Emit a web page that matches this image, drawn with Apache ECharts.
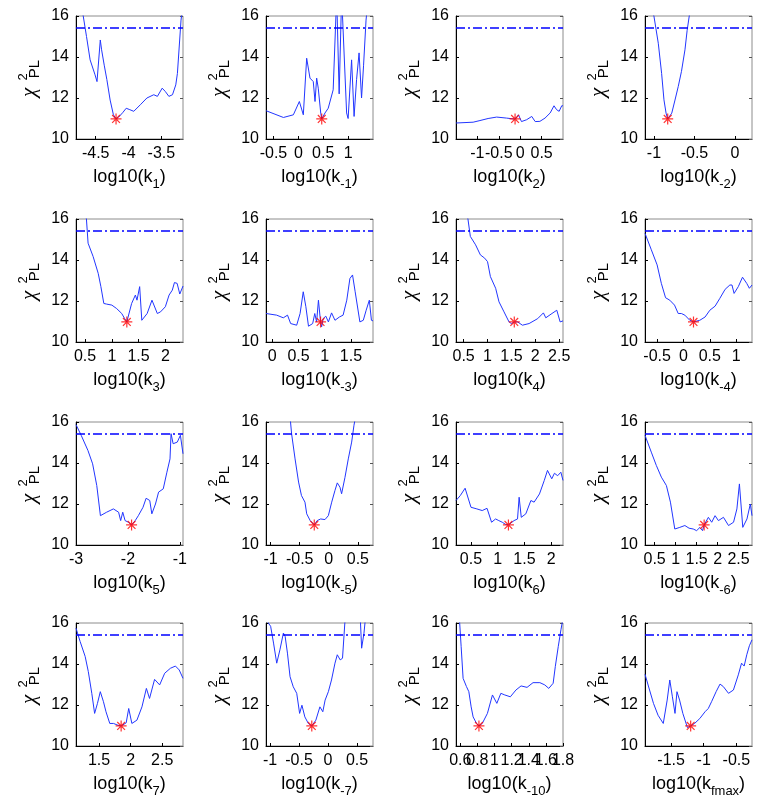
<!DOCTYPE html>
<html>
<head>
<meta charset="utf-8">
<script src="https://cdn.jsdelivr.net/npm/echarts@6/dist/echarts.min.js"></script>
<style>
  html, body { margin: 0; padding: 0; background: #fff; }
  #chart { width: 759px; height: 799px; }
</style>
</head>
<body>
<div id="chart"></div>
<script>
// Profile likelihood curves, one per parameter: [log10(parameter), chi2_PL]
const prof_k1 = [[-4.80,17.5],[-4.69,16.0],[-4.64,15.0],[-4.585,13.86],[-4.51,13.13],[-4.48,12.8],[-4.43,14.83],[-4.41,14.35],[-4.37,13.6],[-4.33,12.9],[-4.28,11.9],[-4.23,11.18],[-4.19,10.98],[-4.15,11.07],[-4.09,11.28],[-4.035,11.5],[-3.98,11.43],[-3.92,11.35],[-3.82,11.67],[-3.72,12.0],[-3.615,12.16],[-3.56,12.08],[-3.487,12.48],[-3.44,12.32],[-3.385,12.08],[-3.33,12.16],[-3.28,12.64],[-3.255,13.2],[-3.20,15.8],[-3.17,16.6]];
const prof_km1 = [[-0.65,11.38],[-0.30,11.05],[-0.10,11.18],[0.02,11.83],[0.10,11.18],[0.167,13.94],[0.234,12.97],[0.30,12.8],[0.335,11.83],[0.368,12.97],[0.40,12.48],[0.45,11.26],[0.47,10.98],[0.536,11.27],[0.60,11.5],[0.70,12.4],[0.77,17],[0.82,12.2],[0.87,17],[0.97,11.27],[1.0,11.0],[1.07,13.86],[1.12,11.1],[1.17,12.9],[1.22,14.2],[1.27,12.0],[1.31,13.57],[1.36,15.8],[1.41,17],[1.5,17.5]];
const prof_k2 = [[-1.5,10.78],[-1.1,10.82],[-0.94,10.9],[-0.75,11.0],[-0.55,11.07],[-0.32,11.02],[-0.12,10.97],[-0.04,11.18],[0.03,10.85],[0.15,10.94],[0.27,11.1],[0.35,10.85],[0.46,10.86],[0.58,11.02],[0.70,11.27],[0.79,11.62],[0.85,11.43],[0.91,11.35],[0.97,11.62],[1.0,11.62]];
const prof_km2 = [[-1.09,17],[-1.0,16],[-0.946,14.67],[-0.905,13.2],[-0.876,11.91],[-0.85,11.26],[-0.83,10.98],[-0.78,11.26],[-0.74,11.9],[-0.70,12.56],[-0.66,13.3],[-0.617,14.35],[-0.59,15.3],[-0.564,16],[-0.54,16.7]];
const prof_k3 = [[0.33,18],[0.49,16.46],[0.525,16],[0.556,14.82],[0.65,14.17],[0.745,13.35],[0.795,12.7],[0.85,11.88],[0.90,11.85],[1.0,11.8],[1.09,11.63],[1.185,11.39],[1.24,11.14],[1.28,10.98],[1.37,11.88],[1.44,12.29],[1.47,12.04],[1.52,12.7],[1.56,11.06],[1.66,11.39],[1.75,12.04],[1.85,11.39],[1.91,11.47],[2.0,11.72],[2.07,12.29],[2.13,12.53],[2.17,12.9],[2.22,12.86],[2.27,12.34],[2.33,12.73]];
const prof_km3 = [[-0.12,11.39],[0.083,11.31],[0.21,11.18],[0.29,11.31],[0.35,10.9],[0.465,10.82],[0.53,11.39],[0.59,12.45],[0.64,11.72],[0.69,10.77],[0.77,10.9],[0.81,11.39],[0.845,10.98],[0.88,12.04],[0.92,10.98],[0.94,10.74],[0.97,11.14],[1.02,11.26],[1.07,10.98],[1.13,11.42],[1.195,11.06],[1.28,11.22],[1.35,11.31],[1.42,12.04],[1.48,13.1],[1.53,13.27],[1.58,12.45],[1.67,10.98],[1.735,11.06],[1.79,11.55],[1.85,12.04],[1.89,11.06],[1.92,11.03]];
const prof_k4 = [[0.34,18],[0.54,16.46],[0.59,16],[0.64,15.15],[0.75,14.74],[0.85,14.25],[0.94,14.09],[1.0,13.92],[1.06,13.19],[1.17,12.62],[1.24,11.96],[1.345,11.47],[1.45,10.98],[1.5,10.9],[1.56,10.98],[1.63,10.98],[1.73,10.82],[1.87,10.9],[2.05,11.14],[2.17,11.42],[2.22,11.18],[2.33,11.36],[2.45,11.55],[2.52,10.98],[2.58,11.03]];
const prof_km4 = [[-0.73,15.3],[-0.61,14.5],[-0.50,13.76],[-0.42,12.86],[-0.34,12.16],[-0.26,12.04],[-0.17,11.8],[-0.10,11.39],[-0.04,11.39],[0.026,11.31],[0.12,11.06],[0.19,10.98],[0.31,11.06],[0.41,11.22],[0.50,11.55],[0.60,11.75],[0.69,12.13],[0.79,12.57],[0.88,12.78],[0.92,12.78],[0.96,12.37],[1.04,12.7],[1.12,13.16],[1.2,12.86],[1.25,12.62],[1.3,12.78]];
const prof_k5 = [[-3.0,15.87],[-2.9,15.35],[-2.77,14.61],[-2.68,13.96],[-2.6,12.9],[-2.53,11.43],[-2.41,11.6],[-2.28,11.76],[-2.18,11.6],[-2.14,11.19],[-2.10,11.6],[-2.055,11.19],[-1.99,11.11],[-1.93,10.98],[-1.86,11.19],[-1.8,11.43],[-1.71,11.84],[-1.65,12.28],[-1.58,12.17],[-1.54,11.52],[-1.47,12.0],[-1.41,12.58],[-1.32,12.74],[-1.25,13.55],[-1.19,14.2],[-1.17,15.43],[-1.13,14.94],[-1.05,15.02],[-0.99,15.35],[-0.94,14.45]];
const prof_km5 = [[-0.69,17],[-0.64,15.43],[-0.58,14.2],[-0.52,13.07],[-0.47,12.41],[-0.41,12.09],[-0.38,11.52],[-0.32,11.19],[-0.25,10.98],[-0.20,11.19],[-0.14,11.27],[-0.066,11.24],[-0.008,11.43],[0.05,12.09],[0.106,12.66],[0.146,13.03],[0.192,12.82],[0.22,12.5],[0.278,13.3],[0.335,14.2],[0.393,15.02],[0.433,15.84],[0.47,16.4]];
const prof_k6 = [[0.22,12.17],[0.30,12.41],[0.39,12.77],[0.50,11.84],[0.61,11.76],[0.71,11.68],[0.80,11.79],[0.885,11.11],[0.96,11.27],[1.02,11.19],[1.085,11.11],[1.15,11.0],[1.2,10.98],[1.305,11.19],[1.37,11.27],[1.40,12.33],[1.44,11.35],[1.525,11.52],[1.62,12.17],[1.68,12.09],[1.78,12.49],[1.87,13.15],[1.93,13.64],[2.01,13.23],[2.06,13.5],[2.12,13.38],[2.18,13.55],[2.22,13.15]];
const prof_km6 = [[0.27,15.35],[0.42,14.53],[0.54,13.88],[0.66,13.31],[0.78,12.9],[0.876,12.09],[0.98,10.78],[1.1,10.86],[1.22,10.95],[1.32,10.82],[1.42,10.78],[1.5,10.7],[1.58,10.86],[1.64,10.7],[1.68,10.98],[1.78,11.35],[1.86,11.11],[1.94,11.43],[2.02,11.19],[2.14,11.35],[2.26,10.95],[2.38,11.11],[2.46,11.76],[2.52,12.98],[2.60,10.86],[2.70,11.27],[2.78,12.0],[2.82,11.43]];
const prof_k7 = [[1.135,15.75],[1.2,15.1],[1.28,14.37],[1.33,13.63],[1.385,12.57],[1.43,11.59],[1.475,12.08],[1.52,12.65],[1.57,12.16],[1.61,11.67],[1.67,11.1],[1.73,11.1],[1.80,11.01],[1.85,10.98],[1.93,11.13],[1.97,11.83],[2.02,11.1],[2.10,11.26],[2.18,11.91],[2.25,12.81],[2.30,12.32],[2.38,13.25],[2.46,12.98],[2.54,13.55],[2.63,13.79],[2.71,13.9],[2.77,13.71],[2.80,13.74],[2.83,13.3]];
const prof_km7 = [[-1.07,16.5],[-1.03,16],[-0.99,15.84],[-0.94,15.02],[-0.885,14.04],[-0.83,14.69],[-0.77,15.51],[-0.74,15.35],[-0.70,14.53],[-0.655,13.38],[-0.60,12.89],[-0.54,12.57],[-0.49,11.59],[-0.45,11.99],[-0.40,11.42],[-0.34,11.1],[-0.28,10.98],[-0.21,11.26],[-0.14,11.91],[-0.09,11.67],[-0.05,12.24],[0.006,12.65],[0.06,13.22],[0.12,14.04],[0.16,14.45],[0.21,14.2],[0.25,14.28],[0.29,16],[0.32,16.65],[0.55,16.65],[0.58,14.77],[0.62,15.5],[0.655,16.5],[0.776,17]];
const prof_km10 = [[0.55,18],[0.593,16],[0.61,14.86],[0.633,13.3],[0.672,12.9],[0.70,12.65],[0.727,11.91],[0.75,11.42],[0.767,11.34],[0.79,11.1],[0.818,10.98],[0.857,11.1],[0.917,11.59],[0.976,12.49],[1.027,12.08],[1.074,12.57],[1.12,12.49],[1.185,12.4],[1.25,12.73],[1.31,12.93],[1.38,12.86],[1.45,13.09],[1.53,13.09],[1.587,12.98],[1.634,12.81],[1.685,13.06],[1.71,13.87],[1.745,14.86],[1.776,15.67],[1.79,16],[1.8,16.3]];
const prof_kfmax = [[-1.9,13.5],[-1.83,12.73],[-1.77,12.08],[-1.70,11.5],[-1.62,11.1],[-1.56,12.24],[-1.52,13.22],[-1.48,12.4],[-1.44,11.59],[-1.41,12.65],[-1.37,12.24],[-1.32,11.59],[-1.25,10.9],[-1.2,10.98],[-1.14,11.1],[-1.06,11.34],[-0.98,11.67],[-0.93,11.83],[-0.88,12.16],[-0.81,12.65],[-0.75,13.02],[-0.70,12.9],[-0.62,12.57],[-0.545,12.73],[-0.47,13.47],[-0.42,14.04],[-0.38,13.9],[-0.34,14.45],[-0.30,14.89],[-0.28,14.86],[-0.26,15.18]];

const profiles = [prof_k1, prof_km1, prof_k2, prof_km2, prof_k3, prof_km3, prof_k4, prof_km4,
                  prof_k5, prof_km5, prof_k6, prof_km6, prof_k7, prof_km7, prof_km10, prof_kfmax];

// parameter subscripts used in the axis names log10(k_i)
const paramSubscripts = ['1', '-1', '2', '-2', '3', '-3', '4', '-4', '5', '-5', '6', '-6', '7', '-7', '-10', 'fmax'];

// scanned range of each parameter (log10)
const xLimits = [[-4.80,-3.17],[-0.65,1.5],[-1.5,1.0],[-1.11,0.21],[0.33,2.33],[-0.12,1.92],[0.34,2.58],[-0.73,1.3],
                 [-3.0,-0.94],[-1.08,0.76],[0.22,2.22],[0.27,2.82],[1.135,2.83],[-1.07,0.776],[0.55,1.8],[-1.9,-0.26]];

// x tick labels of each panel
const xTicks = [[-4.5,-4,-3.5],[-0.5,0,0.5,1],[-1,-0.5,0,0.5],[-1,-0.5,0],
                [0.5,1,1.5,2],[0,0.5,1,1.5],[0.5,1,1.5,2,2.5],[-0.5,0,0.5,1],
                [-3,-2,-1],[-1,-0.5,0,0.5],[0.5,1,1.5,2],[0.5,1,1.5,2,2.5],
                [1.5,2,2.5],[-1,-0.5,0,0.5],[0.6,0.8,1,1.2,1.4,1.6,1.8],[-1.5,-1,-0.5]];

// best-fit parameter values and the minimal chi2
const bestFitX = [-4.19, 0.47, -0.12, -0.83, 1.28, 0.92, 1.56, 0.19, -1.93, -0.25, 1.2, 1.68, 1.85, -0.28, 0.818, -1.2];
const chi2Min = 10.98;
// confidence threshold
const chi2Threshold = 15.42;
// y tick labels
const yTicks = [10, 12, 14, 16];

const FONT = '"Liberation Sans", Arial, Helvetica, sans-serif';
const colLeft = [76, 266, 456, 645];
const rowTop = [16, 219, 422, 623];
const W = 107, H = 123;
const ASTERISK = 'path://M5 0L5 10M0 5L10 5M1.46 1.46L8.54 8.54M1.46 8.54L8.54 1.46';
const N = profiles.length;

const grids = [], xAxes = [], yAxes = [], series = [], graphics = [];
const labelStyle = { color: '#000', fontSize: 16, fontFamily: FONT, margin: 7,
                     hideOverlap: false, showMinLabel: true, showMaxLabel: true };

profiles.forEach((prof, i) => {
  const r = Math.floor(i / 4), c = i % 4;
  const evenTicks = xTicks[i].filter((v, j) => j % 2 === 0);
  const oddTicks = xTicks[i].filter((v, j) => j % 2 === 1);
  grids.push({
    left: colLeft[c], top: rowTop[r], width: W, height: H,
    show: true, borderColor: '#8c8c8c', borderWidth: 1, backgroundColor: 'transparent',
    containLabel: false, outerBoundsMode: 'none'
  });
  xAxes[i] = {
    type: 'value', gridIndex: i, position: 'bottom', min: xLimits[i][0], max: xLimits[i][1],
    axisLine: { show: true, onZero: false, lineStyle: { color: '#000', width: 1 } },
    axisTick: { show: true, inside: true, length: 3, customValues: xTicks[i], lineStyle: { color: '#000' } },
    axisLabel: Object.assign({ show: true, customValues: evenTicks }, labelStyle),
    splitLine: { show: false },
    name: '{m|log10(k}{s|' + paramSubscripts[i] + '}{m|)}',
    nameLocation: 'middle', nameGap: 24,
    nameTextStyle: {
      color: '#000', fontFamily: FONT, fontSize: 18,
      rich: {
        m: { fontSize: 18, fontFamily: FONT, color: '#000', lineHeight: 28 },
        s: { fontSize: 13, fontFamily: FONT, color: '#000', lineHeight: 13, verticalAlign: 'bottom' }
      }
    }
  };
  // second label row on the same bottom edge, so neighbouring tick labels are all drawn
  xAxes[N + i] = {
    type: 'value', gridIndex: i, position: 'bottom', offset: 0, min: xLimits[i][0], max: xLimits[i][1],
    axisLine: { show: false, onZero: false },
    axisTick: { show: false },
    axisLabel: Object.assign({ show: oddTicks.length > 0, customValues: oddTicks }, labelStyle),
    splitLine: { show: false }
  };
  yAxes.push({
    type: 'value', gridIndex: i, position: 'left', min: 10, max: 16, interval: 2,
    axisLine: { show: true, onZero: false, lineStyle: { color: '#000', width: 1 } },
    axisTick: { show: true, inside: true, length: 3, lineStyle: { color: '#000' } },
    axisLabel: { show: true, color: '#000', fontSize: 16, fontFamily: FONT, margin: 7,
                 formatter: v => (yTicks.indexOf(v) >= 0 ? String(v) : '') },
    splitLine: { show: false }
  });
  yAxes.push({
    type: 'value', gridIndex: i, position: 'right', min: 10, max: 16, interval: 2,
    axisLine: { show: false, onZero: false },
    axisTick: { show: true, inside: true, length: 3, lineStyle: { color: '#555' } },
    axisLabel: { show: false },
    splitLine: { show: false }
  });
  series.push({
    type: 'line', xAxisIndex: i, yAxisIndex: 2 * i, data: prof,
    symbol: 'none', clip: true, animation: false, silent: true,
    lineStyle: { color: '#2236ff', width: 1 },
    markLine: {
      silent: true, animation: false, symbol: ['none', 'none'],
      label: { show: false },
      lineStyle: { color: '#0000ff', width: 1.6, type: [9, 3, 2, 3] },
      data: [{ yAxis: chi2Threshold }]
    }
  });
  series.push({
    type: 'scatter', xAxisIndex: i, yAxisIndex: 2 * i,
    data: [[bestFitX[i], chi2Min]], symbol: ASTERISK, symbolSize: 11,
    animation: false, silent: true, z: 5,
    itemStyle: { color: 'transparent', borderColor: '#ff0000', borderWidth: 1.2 }
  });
  // rotated y-axis title: chi with superscript 2 and subscript PL
  graphics.push({
    type: 'group',
    x: colLeft[c] - 47, y: rowTop[r] + H / 2 + 15,
    rotation: Math.PI / 2,
    children: [
      { type: 'text', style: { text: 'χ', x: 0, y: 0, align: 'center', verticalAlign: 'middle', fontSize: 21, fontStyle: 'italic', fontFamily: '"Liberation Serif", "DejaVu Serif", serif', fill: '#000' } },
      { type: 'text', style: { text: '2', x: 15.5, y: -6, align: 'center', verticalAlign: 'middle', fontSize: 13, fontFamily: FONT, fill: '#000' } },
      { type: 'text', style: { text: 'PL', x: 23.5, y: 5.5, align: 'center', verticalAlign: 'middle', fontSize: 15, fontFamily: FONT, fill: '#000' } }
    ]
  });
});

const chart = echarts.init(document.getElementById('chart'), null, { renderer: 'canvas' });
chart.setOption({
  backgroundColor: '#fff',
  animation: false,
  grid: grids,
  xAxis: xAxes,
  yAxis: yAxes,
  series: series,
  graphic: graphics
});
</script>
</body>
</html>
